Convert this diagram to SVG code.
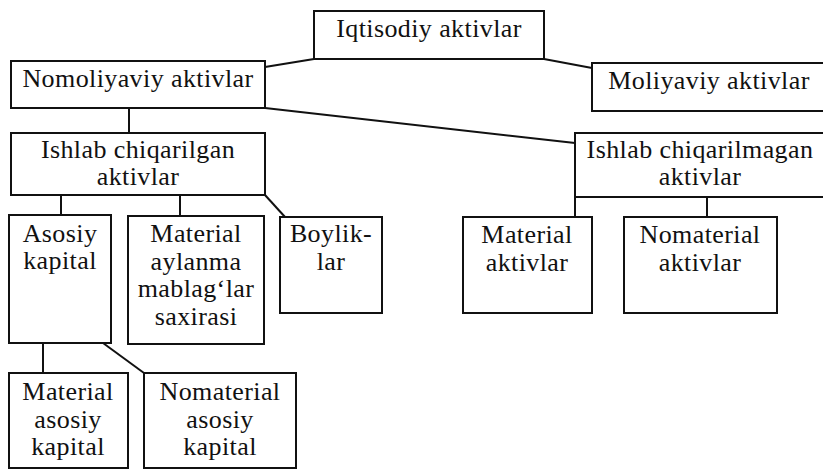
<svg xmlns="http://www.w3.org/2000/svg" width="823" height="469" viewBox="0 0 823 469">
<style>
rect.b{fill:#fff;stroke:#111;stroke-width:2}
text{font-family:"Liberation Serif","Times New Roman",serif;font-size:26px;fill:#111;text-anchor:middle;letter-spacing:0.4px}
#connectors line{stroke:#111;stroke-width:2}
</style>
<rect width="823" height="469" fill="#fff"/>
<g id="connectors">
<line x1="265" y1="67" x2="314" y2="59"/>
<line x1="544" y1="59" x2="592" y2="68"/>
<line x1="265" y1="108" x2="575" y2="143"/>
<line x1="129" y1="108" x2="129" y2="133"/>
<line x1="61" y1="195" x2="61" y2="215"/>
<line x1="180" y1="195" x2="180" y2="216"/>
<line x1="265" y1="195" x2="285" y2="217"/>
<line x1="43" y1="343" x2="43" y2="373"/>
<line x1="103" y1="343" x2="144" y2="373"/>
<line x1="575" y1="197" x2="575" y2="217"/>
<line x1="707" y1="197" x2="707" y2="217"/>
</g>
<g id="iqtisodiy"><rect class="b" x="314" y="11" width="230" height="48"/><text x="429" y="37">Iqtisodiy aktivlar</text></g>
<g id="nomoliyaviy"><rect class="b" x="11" y="61" width="254" height="47"/><text x="138" y="87">Nomoliyaviy aktivlar</text></g>
<g id="moliyaviy"><rect class="b" x="592" y="63" width="240" height="48"/><text x="709" y="89">Moliyaviy  aktivlar</text></g>
<g id="ishlab-chiqarilgan"><rect class="b" x="11" y="133" width="254" height="62"/><text x="138" y="158">Ishlab chiqarilgan</text><text x="138" y="185">aktivlar</text></g>
<g id="ishlab-chiqarilmagan"><rect class="b" x="575" y="133" width="260" height="64"/><text x="700" y="158">Ishlab chiqarilmagan</text><text x="700" y="185">aktivlar</text></g>
<g id="asosiy-kapital"><rect class="b" x="9" y="215" width="102" height="128"/><text x="60" y="242">Asosiy</text><text x="60" y="269">kapital</text></g>
<g id="material-aylanma"><rect class="b" x="128" y="216" width="136" height="128"/><text x="196" y="242">Material</text><text x="196" y="270">aylanma</text><text x="196" y="297">mablag‘lar</text><text x="196" y="325">saxirasi</text></g>
<g id="boyliklar"><rect class="b" x="280" y="217" width="102" height="96"/><text x="331" y="242">Boylik-</text><text x="331" y="270">lar</text></g>
<g id="material-aktivlar"><rect class="b" x="463" y="217" width="129" height="96"/><text x="527" y="243">Material</text><text x="527" y="271">aktivlar</text></g>
<g id="nomaterial-aktivlar"><rect class="b" x="624" y="217" width="153" height="96"/><text x="700" y="243">Nomaterial</text><text x="700" y="271">aktivlar</text></g>
<g id="material-asosiy-kapital"><rect class="b" x="9" y="373" width="119" height="95"/><text x="68" y="400">Material</text><text x="68" y="428">asosiy</text><text x="68" y="455">kapital</text></g>
<g id="nomaterial-asosiy-kapital"><rect class="b" x="144" y="373" width="152" height="95"/><text x="220" y="400">Nomaterial</text><text x="220" y="428">asosiy</text><text x="220" y="455">kapital</text></g>
</svg>
